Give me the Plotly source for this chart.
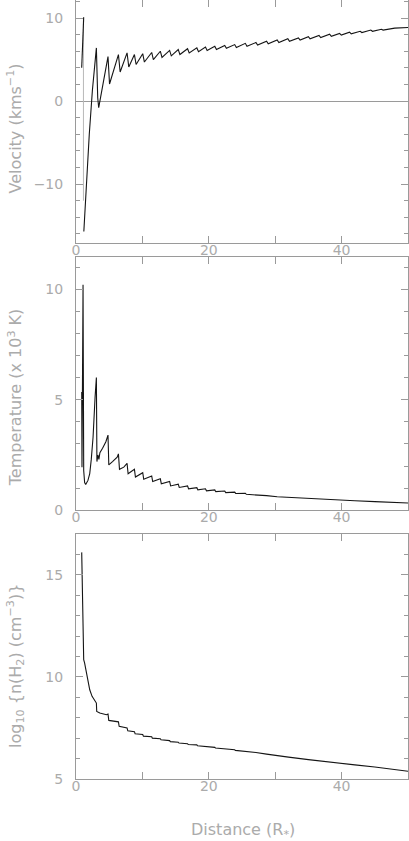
import plotly.graph_objects as go

# Velocity (km/s) vs distance (R*)
vel_x = [0.86, 1.16, None, 1.18, 1.6, 2.0, 2.47, 2.8, 3.07, 3.27, 3.42,
         4.82, 5.05, 6.39, 6.65, 7.69, 7.95, 8.8, 9.05, 10.05, 10.3,
         11.4, 11.65, 12.7, 12.95, 14.1, 14.35, 15.4, 15.65, 16.8, 17.05,
         18.2, 18.45, 19.5, 19.75, 20.9, 21.15, 22.4, 22.65, 23.9, 24.15,
         25.5, 25.75, 27.1, 27.35, 28.7, 28.95, 30.3, 30.55, 31.9, 32.15,
         33.5, 33.75, 35.0, 35.25, 36.6, 36.85, 38.2, 38.45, 39.7, 39.95,
         41.2, 41.45, 42.8, 43.05, 44.4, 44.65, 46.0, 46.25, 48.0, 50.0]
vel_y = [4.0, 10.1, None, -15.7, -9.2, -4.0, 1.3, 4.0, 6.4, 0.4, -0.8,
         5.35, 2.05, 5.6, 3.5, 5.8, 4.1, 5.6, 4.4, 5.7, 4.7,
         5.85, 5.0, 6.0, 5.25, 6.1, 5.45, 6.2, 5.6, 6.3, 5.8,
         6.4, 5.95, 6.5, 6.1, 6.6, 6.2, 6.7, 6.35, 6.8, 6.45,
         6.95, 6.6, 7.05, 6.75, 7.2, 6.9, 7.35, 7.05, 7.5, 7.2,
         7.6, 7.35, 7.75, 7.5, 7.9, 7.65, 8.05, 7.8, 8.15, 7.95,
         8.3, 8.1, 8.4, 8.25, 8.55, 8.4, 8.65, 8.55, 8.78, 8.85]
vel_faint_x = [1.12, 1.12]
vel_faint_y = [10.1, -12.0]

# Temperature (10^3 K)
temp_x = [0.86, 0.9, 1.06, 1.16, 1.3, 1.46, 1.8, 2.07, 2.3, 2.57, 2.87, 2.95, 3.07,
          3.15, 3.3, 3.45, 3.6, 4.0, 4.5, 4.82, 4.94, 5.5, 6.2, 6.39, 6.55,
          7.2, 7.69, 7.85, 8.8, 8.95, 10.05, 10.2, 11.4, 11.55, 12.7, 12.85,
          14.1, 14.25, 15.4, 15.55, 16.8, 16.95, 18.2, 18.35, 19.5, 19.65,
          20.9, 21.05, 22.4, 22.55, 23.9, 24.05, 25.5, 25.65, 27.1, 28.7,
          30.3, 32.0, 35.0, 38.0, 40.0, 42.0, 45.0, 48.0, 50.0]
temp_y = [5.35, 1.95, 10.2, 1.8, 1.25, 1.16, 1.35, 1.66, 2.3, 3.3, 5.1, 5.45, 6.0,
          2.2, 2.5, 2.3, 2.6, 2.8, 3.1, 3.4, 2.05, 2.2, 2.4, 2.55, 1.85,
          1.95, 2.12, 1.65, 1.85, 1.5, 1.7, 1.4, 1.55, 1.3, 1.42, 1.2,
          1.3, 1.1, 1.18, 1.03, 1.1, 0.97, 1.02, 0.92, 0.97, 0.88,
          0.92, 0.84, 0.87, 0.8, 0.82, 0.76, 0.77, 0.72, 0.7, 0.66,
          0.61, 0.58, 0.53, 0.49, 0.46, 0.43, 0.39, 0.35, 0.33]

# log10 n(H2) (cm^-3)
dens_x = [0.86, 0.95, 1.06, 1.16, 1.3, 1.56, 1.81, 2.07, 2.42, 2.82, 3.07,
          3.12, 3.58, 4.58, 4.82, 4.94, 6.2, 6.39, 6.5, 7.69, 7.8, 8.8, 8.9,
          10.05, 10.15, 11.4, 11.5, 12.7, 12.8, 14.1, 14.2, 15.4, 15.5,
          16.8, 16.9, 18.2, 18.3, 19.5, 19.6, 20.9, 21.0, 22.4, 22.5,
          23.9, 24.0, 25.5, 27.1, 28.7, 30.3, 32.0, 35.0, 38.0, 40.0,
          42.0, 45.0, 48.0, 50.0]
dens_y = [16.1, 14.8, 12.1, 10.84, 10.68, 10.19, 9.7, 9.37, 9.05, 8.88, 8.72,
          8.31, 8.23, 8.15, 8.18, 7.87, 7.8, 7.8, 7.58, 7.5, 7.36, 7.32, 7.22,
          7.18, 7.1, 7.07, 7.0, 6.97, 6.92, 6.88, 6.83, 6.8, 6.76,
          6.73, 6.69, 6.67, 6.63, 6.61, 6.58, 6.55, 6.52, 6.49, 6.46,
          6.43, 6.4, 6.36, 6.3, 6.22, 6.13, 6.07, 5.95, 5.83, 5.75,
          5.69, 5.59, 5.47, 5.38]

GREY = "#9a9a9a"
TXT = "#ababab"
FAMILY = "'DejaVu Sans', 'Open Sans', sans-serif"
FONT = dict(family=FAMILY, size=14, color=TXT)
LINE = dict(color="#151515", width=1.1)

fig = go.Figure()
fig.add_trace(go.Scatter(x=vel_faint_x, y=vel_faint_y, mode="lines",
                         line=dict(color="#b8b8b8", width=1), xaxis="x", yaxis="y"))
fig.add_trace(go.Scatter(x=vel_x, y=vel_y, mode="lines", line=LINE,
                         connectgaps=False, xaxis="x", yaxis="y"))
fig.add_trace(go.Scatter(x=temp_x, y=temp_y, mode="lines", line=LINE,
                         xaxis="x2", yaxis="y2"))
fig.add_trace(go.Scatter(x=dens_x, y=dens_y, mode="lines", line=LINE,
                         xaxis="x3", yaxis="y3"))


def xax(anchor):
    return dict(anchor=anchor, range=[0, 50], tick0=0, dtick=20,
                ticks="inside", ticklen=7, tickcolor=GREY,
                minor=dict(dtick=10, ticks="inside", ticklen=7, tickcolor=GREY),
                showline=True, linecolor=GREY, linewidth=1, mirror="allticks",
                showgrid=False, zeroline=False, ticklabelstandoff=-6,
                tickfont=FONT)


def yax(anchor, rng, dtick, mdtick, domain, zero=False):
    return dict(anchor=anchor, range=rng, domain=domain, tick0=0, dtick=dtick,
                ticks="inside", ticklen=7, tickcolor=GREY,
                minor=dict(dtick=mdtick, ticks="inside", ticklen=4, tickcolor=GREY),
                showline=True, linecolor=GREY, linewidth=1, mirror="allticks",
                showgrid=False, zeroline=zero, zerolinecolor=GREY, zerolinewidth=1,
                ticklabelstandoff=9, tickfont=FONT)


title_font = dict(family=FAMILY, size=16, color=TXT)
fig.update_layout(
    width=409, height=841, autosize=False,
    margin=dict(l=76, r=1, t=0, b=62),
    paper_bgcolor="white", plot_bgcolor="white",
    showlegend=False,
    xaxis=xax("y"), xaxis2=xax("y2"), xaxis3=xax("y3"),
    yaxis=yax("x", [-17.1, 12.17], 10, 2, [0.688, 1.0], zero=True),
    yaxis2=yax("x2", [0, 11.45], 5, 1, [0.345, 0.67]),
    yaxis3=yax("x3", [5, 17], 5, 1, [0, 0.3145]),
    annotations=[
        dict(text="Velocity (kms<sup>−1</sup>)", x=-0.184, y=0.835, textangle=-90),
        dict(text="Temperature (x 10<sup>3</sup> K)", x=-0.184, y=0.49, textangle=-90),
        dict(text="log<sub>10</sub> {n(H<sub>2</sub>) (cm<sup>−3</sup>)}", x=-0.184,
             y=0.145, textangle=-90),
        dict(text="Distance (R<sub>*</sub>)", x=0.503, y=-0.0655, textangle=0),
    ],
)
for a in fig.layout.annotations:
    a.update(xref="paper", yref="paper", xanchor="center", yanchor="middle",
             showarrow=False, font=title_font)

fig.write_html("out.html", config={"displayModeBar": False},
               post_script="document.body.style.margin='0';")
